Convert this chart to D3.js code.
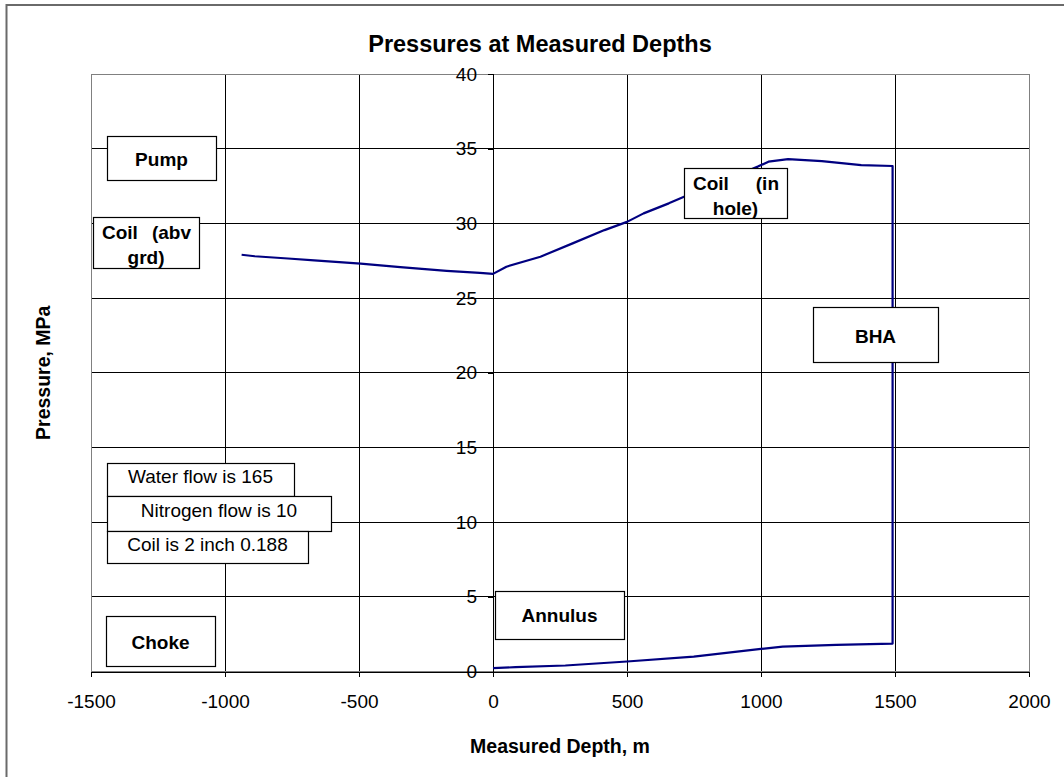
<!DOCTYPE html>
<html>
<head>
<meta charset="utf-8">
<script src="https://cdn.jsdelivr.net/npm/d3@7"></script>
<style>
  html, body { margin: 0; padding: 0; background: #fff; }
  svg { display: block; font-family: "Liberation Sans", Arial, sans-serif; }
</style>
</head>
<body>
<svg id="chart" width="1064" height="777"></svg>
<script>
// ---------------- data ----------------
const chartTitle = "Pressures at Measured Depths";
const xAxisTitle = "Measured Depth, m";
const yAxisTitle = "Pressure, MPa";

const xTicks = [-1500, -1000, -500, 0, 500, 1000, 1500, 2000];
const yTicks = [0, 5, 10, 15, 20, 25, 30, 35, 40];

// Coil above ground (negative depth)
const coilAbvDepth    = [-938, -889, -765, -667, -494, -346, -173, -49, 0];
const coilAbvPressure = [27.9, 27.8, 27.65, 27.52, 27.3, 27.07, 26.82, 26.68, 26.62];

// Coil in hole
const coilHoleDepth    = [0, 50, 177, 297, 416, 500, 562, 656, 715, 850, 988, 1028, 1101, 1227, 1374, 1491];
const coilHolePressure = [26.62, 27.1, 27.77, 28.66, 29.55, 30.1, 30.67, 31.34, 31.8, 32.75, 33.8, 34.13, 34.3, 34.17, 33.9, 33.84];

// Annulus (from bottom hole back up to surface)
const annulusDepth    = [1491, 1281, 1081, 1000, 749, 500, 270, 84, 0];
const annulusPressure = [1.87, 1.78, 1.67, 1.51, 1.0, 0.67, 0.4, 0.29, 0.22];

// text-box annotation labels
const boxLabels = ["Pump", "Coil (abv grd)", "Coil (in hole)", "BHA", "Annulus", "Choke",
                   "Water flow is 165", "Nitrogen flow is 10", "Coil is 2 inch 0.188"];

// ---------------- layout ----------------
const plot = { left: 91, right: 1029, top: 74, bottom: 671.5 };
const annotationLayout = [
  { text: ["Pump"], x: 107, y: 136, w: 109, h: 44, bold: true, baselines: [166] },
  { text: ["Coil", "(abv"], justify: true, x: 93, y: 217, w: 106, h: 51, bold: true, baselines: [239, 264], line2: "grd)" },
  { text: ["Coil", "(in"], justify: true, x: 684, y: 168, w: 103, h: 50, bold: true, baselines: [190, 215], line2: "hole)" },
  { text: ["BHA"], x: 813, y: 307, w: 125, h: 55, bold: true, baselines: [343] },
  { text: ["Annulus"], x: 495, y: 591, w: 129, h: 48, bold: true, baselines: [622] },
  { text: ["Choke"], x: 106, y: 616, w: 109, h: 50, bold: true, baselines: [649] },
  { text: ["Water flow is 165"], x: 107, y: 463, w: 187, h: 33, bold: false, baselines: [483] },
  { text: ["Nitrogen flow is 10"], x: 107, y: 496, w: 224, h: 35, bold: false, baselines: [517] },
  { text: ["Coil is 2 inch 0.188"], x: 107, y: 531, w: 201, h: 32, bold: false, baselines: [551] }
];

const svg = d3.select("#chart");

// outer chart frame (only left/top edges fall inside the picture)
svg.append("rect")
  .attr("x", 6.5).attr("y", 5)
  .attr("width", 1200).attr("height", 900)
  .attr("fill", "#fff")
  .attr("stroke", "#6a6a6a").attr("stroke-width", 2);

const x = d3.scaleLinear().domain([-1500, 2000]).range([plot.left, plot.right]);
const y = d3.scaleLinear().domain([0, 40]).range([plot.bottom, plot.top]);

// gridlines
const grid = svg.append("g");
grid.selectAll("line.v").data(xTicks).join("line")
  .attr("x1", d => x(d)).attr("x2", d => x(d))
  .attr("y1", plot.top).attr("y2", plot.bottom)
  .attr("stroke", "#000").attr("stroke-width", 1).attr("shape-rendering", "crispEdges");
grid.selectAll("line.h").data(yTicks).join("line")
  .attr("x1", plot.left).attr("x2", plot.right)
  .attr("y1", d => y(d)).attr("y2", d => y(d))
  .attr("stroke", "#000").attr("stroke-width", 1).attr("shape-rendering", "crispEdges");

// plot border
svg.append("rect")
  .attr("x", plot.left).attr("y", plot.top)
  .attr("width", plot.right - plot.left).attr("height", plot.bottom - plot.top)
  .attr("fill", "none").attr("stroke", "#808080").attr("stroke-width", 1)
  .attr("shape-rendering", "crispEdges");

const fmt = d => String(d);

// x axis at y = 0
const xAxis = d3.axisBottom(x).tickValues(xTicks).tickSize(5).tickPadding(18).tickFormat(fmt);
const gx = svg.append("g").attr("transform", `translate(0,${y(0)})`).call(xAxis);
gx.select(".domain").attr("stroke", "#000").attr("shape-rendering", "crispEdges");
gx.selectAll(".tick line").attr("stroke", "#000").attr("shape-rendering", "crispEdges");
gx.selectAll(".tick text").attr("font-size", 19).attr("fill", "#000")
  .attr("font-family", "'Liberation Sans', Arial, sans-serif");

// y axis at x = 0
const yAxis = d3.axisLeft(y).tickValues(yTicks).tickSize(5).tickPadding(11).tickFormat(fmt);
const gy = svg.append("g").attr("transform", `translate(${x(0)},0)`).call(yAxis);
gy.select(".domain").attr("stroke", "#000").attr("shape-rendering", "crispEdges");
gy.selectAll(".tick line").attr("stroke", "#000").attr("shape-rendering", "crispEdges");
gy.selectAll(".tick text").attr("font-size", 19).attr("fill", "#000")
  .attr("font-family", "'Liberation Sans', Arial, sans-serif");

// data line
const pts = [];
coilAbvDepth.forEach((d, i) => pts.push([d, coilAbvPressure[i]]));
coilHoleDepth.forEach((d, i) => { if (i > 0) pts.push([d, coilHolePressure[i]]); });
annulusDepth.forEach((d, i) => pts.push([d, annulusPressure[i]]));

const line = d3.line().x(d => x(d[0])).y(d => y(d[1]));
svg.append("path").datum(pts)
  .attr("d", line)
  .attr("fill", "none")
  .attr("stroke", "#000080")
  .attr("stroke-width", 2.2)
  .attr("stroke-linejoin", "round");

// annotation boxes
const ann = svg.append("g");
annotationLayout.forEach((a) => {
  const g = ann.append("g");
  g.append("rect")
    .attr("x", a.x + 0.5).attr("y", a.y + 0.5)
    .attr("width", a.w).attr("height", a.h)
    .attr("fill", "#fff").attr("stroke", "#000").attr("stroke-width", 1.2);
  const fw = a.bold ? "bold" : "normal";
  if (a.justify) {
    g.append("text").attr("x", a.x + 9).attr("y", a.baselines[0])
      .attr("font-size", 19).attr("font-weight", fw).text(a.text[0]);
    g.append("text").attr("x", a.x + a.w - 8).attr("y", a.baselines[0])
      .attr("text-anchor", "end")
      .attr("font-size", 19).attr("font-weight", fw).text(a.text[1]);
    g.append("text").attr("x", a.x + a.w / 2).attr("y", a.baselines[1])
      .attr("text-anchor", "middle")
      .attr("font-size", 19).attr("font-weight", fw).text(a.line2);
  } else {
    g.append("text").attr("x", a.x + a.w / 2).attr("y", a.baselines[0])
      .attr("text-anchor", "middle")
      .attr("font-size", 19).attr("font-weight", fw).text(a.text[0]);
  }
});

// titles
svg.append("text").attr("x", 540).attr("y", 52)
  .attr("text-anchor", "middle").attr("font-size", 23.5).attr("font-weight", "bold")
  .text(chartTitle);
svg.append("text").attr("x", (plot.left + plot.right) / 2).attr("y", 753)
  .attr("text-anchor", "middle").attr("font-size", 19.5).attr("font-weight", "bold")
  .text(xAxisTitle);
svg.append("text")
  .attr("transform", `translate(50,${(plot.top + plot.bottom) / 2}) rotate(-90)`)
  .attr("text-anchor", "middle").attr("font-size", 19.5).attr("font-weight", "bold")
  .text(yAxisTitle);
</script>
</body>
</html>
